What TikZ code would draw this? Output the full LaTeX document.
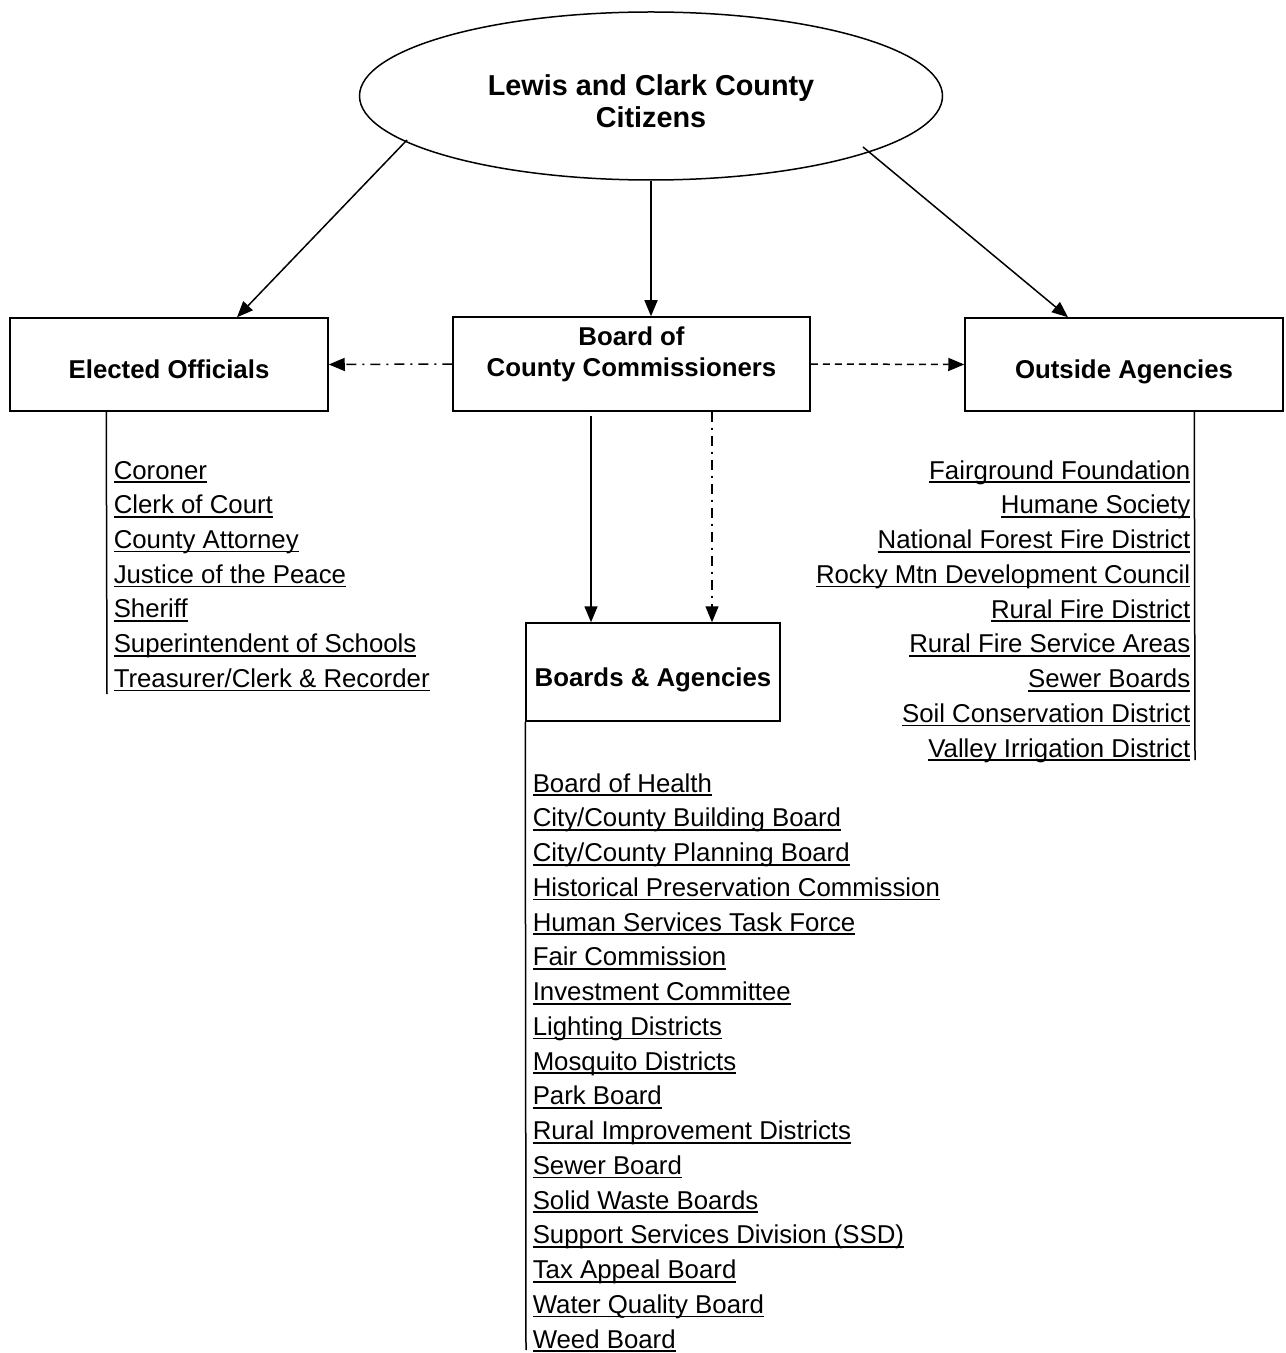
\documentclass[tikz,border=0pt]{standalone}
\usepackage{fontspec}
\setmainfont{Liberation Sans}
\usetikzlibrary{positioning,shapes,arrows.meta,calc}
\newcommand{\ulname}[1]{\setbox0=\hbox{#1}\rlap{\rule[-2pt]{\wd0}{0.8pt}}\box0}

\begin{document}
\begin{tikzpicture}[x=0.5pt, y=-0.5pt, line width=0.75pt, >={Triangle[length=8pt,width=6.5pt]}]
    \tikzstyle{orgbox} = [rectangle, draw, align=center, font=\fontsize{12.9}{15.5}\selectfont\bfseries]
    \tikzstyle{oneline} = [text height=14pt, text depth=0pt]
    \tikzstyle{orgitem} = [inner sep=0pt, font=\fontsize{12.9}{15}\selectfont]
    \tikzstyle{dashdot} = [dash pattern=on 5pt off 3pt on 1pt off 3pt]
    \tikzstyle{dashline} = [dash pattern=on 3.5pt off 2.5pt]

    \useasboundingbox (0,0) rectangle (1285,1353);

    % Citizens
    \node [ellipse, draw, minimum width=291.5pt, minimum height=84pt, inner sep=0pt, align=center, font=\fontsize{14.4}{16}\selectfont\bfseries] (citizens) at (651,96) {\rule{0pt}{16pt}Lewis and Clark County\\Citizens};

    % Main boxes
    \node [orgbox, oneline, minimum width=159pt, minimum height=46.5pt] (elected) at (169,364.5) {Elected Officials};
    \node [orgbox, minimum width=178.5pt, minimum height=47pt] (board) at (631.5,364) {Board of\\County Commissioners\rule[-12pt]{0pt}{12pt}};
    \node [orgbox, oneline, minimum width=159pt, minimum height=46.5pt] (outside) at (1124,364.5) {Outside Agencies};
    \node [orgbox, oneline, minimum width=127pt, minimum height=49pt] (bagencies) at (653,672) {Boards \& Agencies};

    % Arrows from citizens
    \coordinate (leftstart) at ($(citizens.center)+(-244,44)$);
    \coordinate (rightstart) at ($(citizens.center)+(212,51)$);
    \draw [->] (leftstart) -- ($(elected.north)+(68,0)$);
    \draw [->] (citizens.south) -- (citizens.south |- board.north);
    \draw [->] (rightstart) -- ($(outside.north)+(-56,0)$);

    % Arrows from the board
    \draw [->, dashdot] (board.west) -- (elected.east);
    \draw [->, dashline] (board.east) -- (outside.west);
    \coordinate (solidtop) at ($(board.south)+(-40.5,4)$);
    \coordinate (dashtop) at ($(board.south)+(80.5,0)$);
    \draw [->] (solidtop) -- (solidtop |- bagencies.north);
    \draw [->, dashdot] (dashtop) -- (dashtop |- bagencies.north);

    % Elected officials
    \foreach \itemtext [count=\i] in {Coroner, Clerk of Court, County Attorney, Justice of the Peace, Sheriff, Superintendent of Schools, Treasurer/Clerk \& Recorder}
        \node [orgitem, anchor=base west] (eo\i) at (113, {479+34.7*(\i-1)}) {\ulname{\itemtext}};
    \draw ($(elected.south west)+(97,0)$) -- ($(eo7.base west)+(-6,7)$);

    % Outside agencies
    \foreach \itemtext [count=\i] in {Fairground Foundation, Humane Society, National Forest Fire District, Rocky Mtn Development Council, Rural Fire District, Rural Fire Service Areas, Sewer Boards, Soil Conservation District, Valley Irrigation District}
        \node [orgitem, anchor=base east] (oa\i) at (1191, {479+34.75*(\i-1)}) {\ulname{\itemtext}};
    \draw ($(outside.south west)+(230,0)$) -- ($(oa9.base east)+(4,3)$);

    % Boards and agencies
    \foreach \itemtext [count=\i] in {Board of Health, City/County Building Board, City/County Planning Board, Historical Preservation Commission, Human Services Task Force, Fair Commission, Investment Committee, Lighting Districts, Mosquito Districts, Park Board, Rural Improvement Districts, Sewer Board, Solid Waste Boards, Support Services Division (SSD), Tax Appeal Board, Water Quality Board, Weed Board}
        \node [orgitem, anchor=base west] (ba\i) at (532, {792+34.75*(\i-1)}) {\ulname{\itemtext}};
    \draw (bagencies.south west) -- ($(ba17.base west)+(-6,2)$);
\end{tikzpicture}
\end{document}
